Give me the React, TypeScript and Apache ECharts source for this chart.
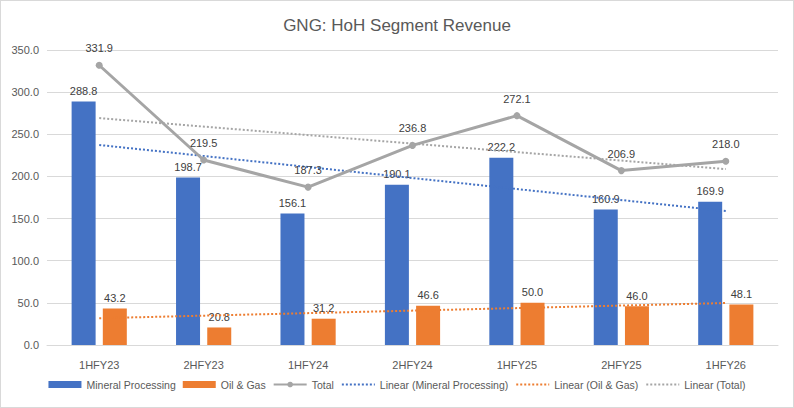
import React, { useEffect, useRef } from "react";
import * as echarts from "echarts";

const categories = ["1HFY23", "2HFY23", "1HFY24", "2HFY24", "1HFY25", "2HFY25", "1HFY26"];
const mineralProcessing = [288.8, 198.7, 156.1, 190.1, 222.2, 160.9, 169.9];
const oilGas = [43.2, 20.8, 31.2, 46.6, 50.0, 46.0, 48.1];
const total = [331.9, 219.5, 187.3, 236.8, 272.1, 206.9, 218.0];
// trendline endpoints (first and last category)
const trendMineral = [237.3, null, null, null, null, null, 158.9];
const trendOilGas = [31.8, null, null, null, null, null, 49.8];
const trendTotal = [269.2, null, null, null, null, null, 208.7];

const FONT = "Liberation Sans";

export default function App() {
  const ref = useRef<HTMLDivElement>(null);
  useEffect(() => {
    document.body.style.margin = "0";
    const chart = echarts.init(ref.current!, null, { renderer: "svg" });
    const labelStyle = {
      show: true,
      position: "top" as const,
      color: "#404040",
      fontSize: 11,
      fontFamily: FONT,
      formatter: (p: any) => Number(p.value).toFixed(1),
    };
    const trendLegend = (name: string) => ({ name, itemStyle: { opacity: 0 } });
    chart.setOption({
      animation: false,
      backgroundColor: "#ffffff",
      title: {
        text: "GNG: HoH Segment Revenue",
        left: "center",
        top: 11,
        textStyle: { color: "#595959", fontSize: 17, fontWeight: "normal", fontFamily: FONT },
      },
      grid: { left: 46, right: 15, top: 49, bottom: 62 },
      legend: {
        bottom: 12,
        left: "center",
        itemWidth: 33,
        itemHeight: 7,
        itemGap: 7,
        textStyle: { color: "#595959", fontSize: 10.5, fontFamily: FONT },
        data: [
          { name: "Mineral Processing", icon: "rect" },
          { name: "Oil & Gas", icon: "rect" },
          "Total",
          trendLegend("Linear (Mineral Processing)"),
          trendLegend("Linear (Oil & Gas)"),
          trendLegend("Linear (Total)"),
        ],
      },
      xAxis: {
        type: "category",
        data: categories,
        axisLine: { lineStyle: { color: "#d9d9d9" } },
        axisTick: { show: false },
        axisLabel: { color: "#595959", fontSize: 11, fontFamily: FONT, margin: 14 },
      },
      yAxis: {
        type: "value",
        min: 0,
        max: 350,
        interval: 50,
        axisLine: { show: false },
        axisTick: { show: false },
        splitLine: { lineStyle: { color: "#d9d9d9" } },
        axisLabel: {
          color: "#595959",
          fontSize: 11,
          fontFamily: FONT,
          margin: 8,
          formatter: (v: number) => v.toFixed(1),
        },
      },
      series: [
        {
          name: "Mineral Processing",
          type: "bar",
          data: mineralProcessing,
          barWidth: 24,
          barGap: "30%",
          itemStyle: { color: "#4472c4" },
          label: labelStyle,
        },
        {
          name: "Oil & Gas",
          type: "bar",
          data: oilGas,
          barWidth: 24,
          barGap: "30%",
          itemStyle: { color: "#ed7d31" },
          label: labelStyle,
        },
        {
          name: "Total",
          type: "line",
          data: total,
          symbol: "circle",
          symbolSize: 7,
          itemStyle: { color: "#a5a5a5" },
          lineStyle: { color: "#a5a5a5", width: 3 },
          label: { ...labelStyle, distance: 8 },
          z: 5,
        },
        {
          name: "Linear (Mineral Processing)",
          type: "line",
          data: trendMineral,
          connectNulls: true,
          symbol: "none",
          lineStyle: { color: "#4472c4", width: 2, type: [2, 2] },
          itemStyle: { color: "#4472c4" },
          z: 4,
        },
        {
          name: "Linear (Oil & Gas)",
          type: "line",
          data: trendOilGas,
          connectNulls: true,
          symbol: "none",
          lineStyle: { color: "#ed7d31", width: 2, type: [2, 2] },
          itemStyle: { color: "#ed7d31" },
          z: 4,
        },
        {
          name: "Linear (Total)",
          type: "line",
          data: trendTotal,
          connectNulls: true,
          symbol: "none",
          lineStyle: { color: "#a5a5a5", width: 2, type: [2, 2] },
          itemStyle: { color: "#a5a5a5" },
          z: 4,
        },
      ],
    });
    return () => chart.dispose();
  }, []);
  return (
    <div
      ref={ref}
      style={{ width: 794, height: 408, border: "1px solid #d9d9d9", boxSizing: "border-box" }}
    />
  );
}
